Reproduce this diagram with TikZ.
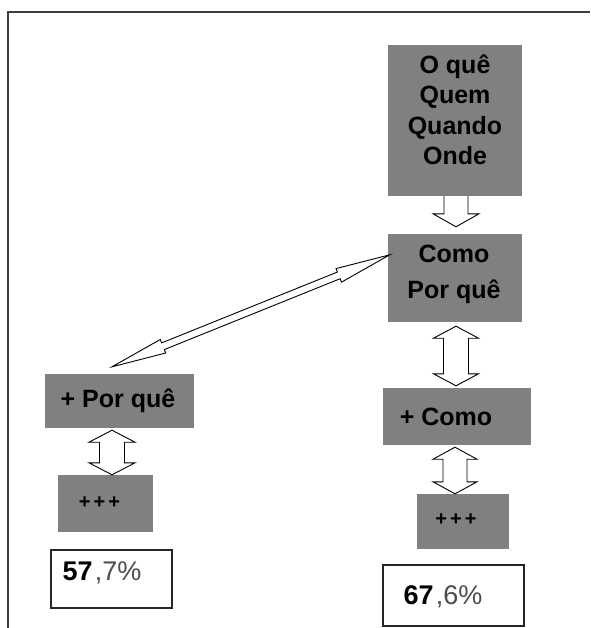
\documentclass[tikz,border=0pt]{standalone}
\usepackage{fontspec}
\setmainfont{Liberation Sans}
\usetikzlibrary{calc}
\definecolor{boxgray}{RGB}{128,128,128}
\definecolor{framegray}{RGB}{60,60,60}
\tikzset{
  gbox/.style={fill=boxgray, draw=none, inner sep=0pt},
  wbox/.style={fill=white, draw=black!85, line width=1.4pt, inner sep=0pt},
  btxt/.style={font=\fontsize{25}{30.5}\selectfont\bfseries, align=center, inner sep=0pt, text=black},
  ptxt/.style={font=\fontsize{20}{22}\selectfont\bfseries, inner sep=0pt, text=black},
  pct/.style={font=\fontsize{27}{29}\selectfont, inner sep=0pt, text=black!70},
  barrow/.style={draw=black, fill=white, line width=0.9pt, line join=miter},
  frame/.style={draw=framegray, line width=2pt}
}
\newcommand\dblarrow[5]{%
  \coordinate (da1) at ($(#1)!#5!(#2)$);
  \coordinate (da2) at ($(#2)!#5!(#1)$);
  \draw[barrow] (#1) -- ($(da1)!#4!90:(#2)$) -- ($(da1)!#3!90:(#2)$)
    -- ($(da2)!#3!-90:(#1)$) -- ($(da2)!#4!-90:(#1)$) -- (#2)
    -- ($(da2)!#4!90:(#1)$) -- ($(da2)!#3!90:(#1)$)
    -- ($(da1)!#3!-90:(#2)$) -- ($(da1)!#4!-90:(#2)$) -- cycle;}
\newcommand\sglarrow[5]{%
  \coordinate (sa) at ($(#2)!#5!(#1)$);
  \draw[barrow] ($(#1)!#3!90:(#2)$) -- ($(sa)!#3!-90:(#1)$) -- ($(sa)!#4!-90:(#1)$)
    -- (#2) -- ($(sa)!#4!90:(#1)$) -- ($(sa)!#3!90:(#1)$) -- ($(#1)!#3!-90:(#2)$);}
\begin{document}
\begin{tikzpicture}[x=1pt, y=-1pt]
\useasboundingbox (0,0) rectangle (590,628);
\fill[white] (0,0) rectangle (590,628);
% frame (top and left edges)
\coordinate (fr1) at (590,12);
\coordinate (fr2) at (8,12);
\coordinate (fr3) at (8,628);
\draw[frame] (fr1) -- (fr2) -- (fr3);

% right column boxes
\node[gbox, minimum width=134pt, minimum height=151pt] (b1) at (455,120.5) {};
\node[btxt] (t1) at (455,110) {O quê\\Quem\\Quando\\Onde};
\node[gbox, minimum width=134pt, minimum height=88pt] (b2) at (455,278) {};
\node[btxt, font=\fontsize{25}{36}\selectfont\bfseries] (t2) at (454,274) {Como\\Por quê};
\node[gbox, minimum width=148pt, minimum height=57pt] (b3) at (457,416.5) {};
\node[btxt] (t3) at (446,417) {+ Como};
\node[gbox, minimum width=92pt, minimum height=55pt] (b4) at (463,521.5) {};
\node[ptxt] (t4) at (456,520) {+\kern3pt+\kern3pt+};
\node[wbox, minimum width=141pt, minimum height=61pt] (b5) at (453.5,595.5) {};
\node[pct] (t5) at (443,597) {\textcolor{black}{\bfseries 67}\kern2pt,6\%};

% left column boxes
\node[gbox, minimum width=149pt, minimum height=54pt] (b6) at (119.5,401) {};
\node[btxt] (t6) at (118,401) {+ Por quê};
\node[gbox, minimum width=95pt, minimum height=57pt] (b7) at (105.5,503.5) {};
\node[ptxt] (t7) at (99.5,503) {+\kern3pt+\kern3pt+};
\node[wbox, minimum width=121pt, minimum height=58pt] (b8) at (111.5,579) {};
\node[pct] (t8) at (102,573) {\textcolor{black}{\bfseries 57}\kern2pt,7\%};

% arrows
\coordinate (a1s) at ($(b1.south)+(1,0)$);
\coordinate (a1e) at ($(b2.north)+(1,-7)$);
\sglarrow{a1s}{a1e}{12pt}{23pt}{13pt}

\coordinate (a2s) at ($(b2.south)+(1,4)$);
\coordinate (a2e) at ($(b3.north)+(-1,-2)$);
\dblarrow{a2s}{a2e}{12.5pt}{22.5pt}{12pt}

\coordinate (a3s) at ($(b3.south)+(-2,2)$);
\coordinate (a3e) at ($(b4.north)+(-8,0)$);
\dblarrow{a3s}{a3e}{12pt}{22pt}{12pt}

\coordinate (a4s) at ($(b6.south)+(-7.5,2)$);
\coordinate (a4e) at ($(b7.north)+(6.5,0)$);
\dblarrow{a4s}{a4e}{12.5pt}{23pt}{12pt}

\coordinate (a5s) at ($(b6.north)+(-7.5,-7)$);
\coordinate (a5e) at ($(b2.north west)+(2,21)$);
\dblarrow{a5s}{a5e}{3.6pt}{7.3pt}{55pt}
\end{tikzpicture}
\end{document}
